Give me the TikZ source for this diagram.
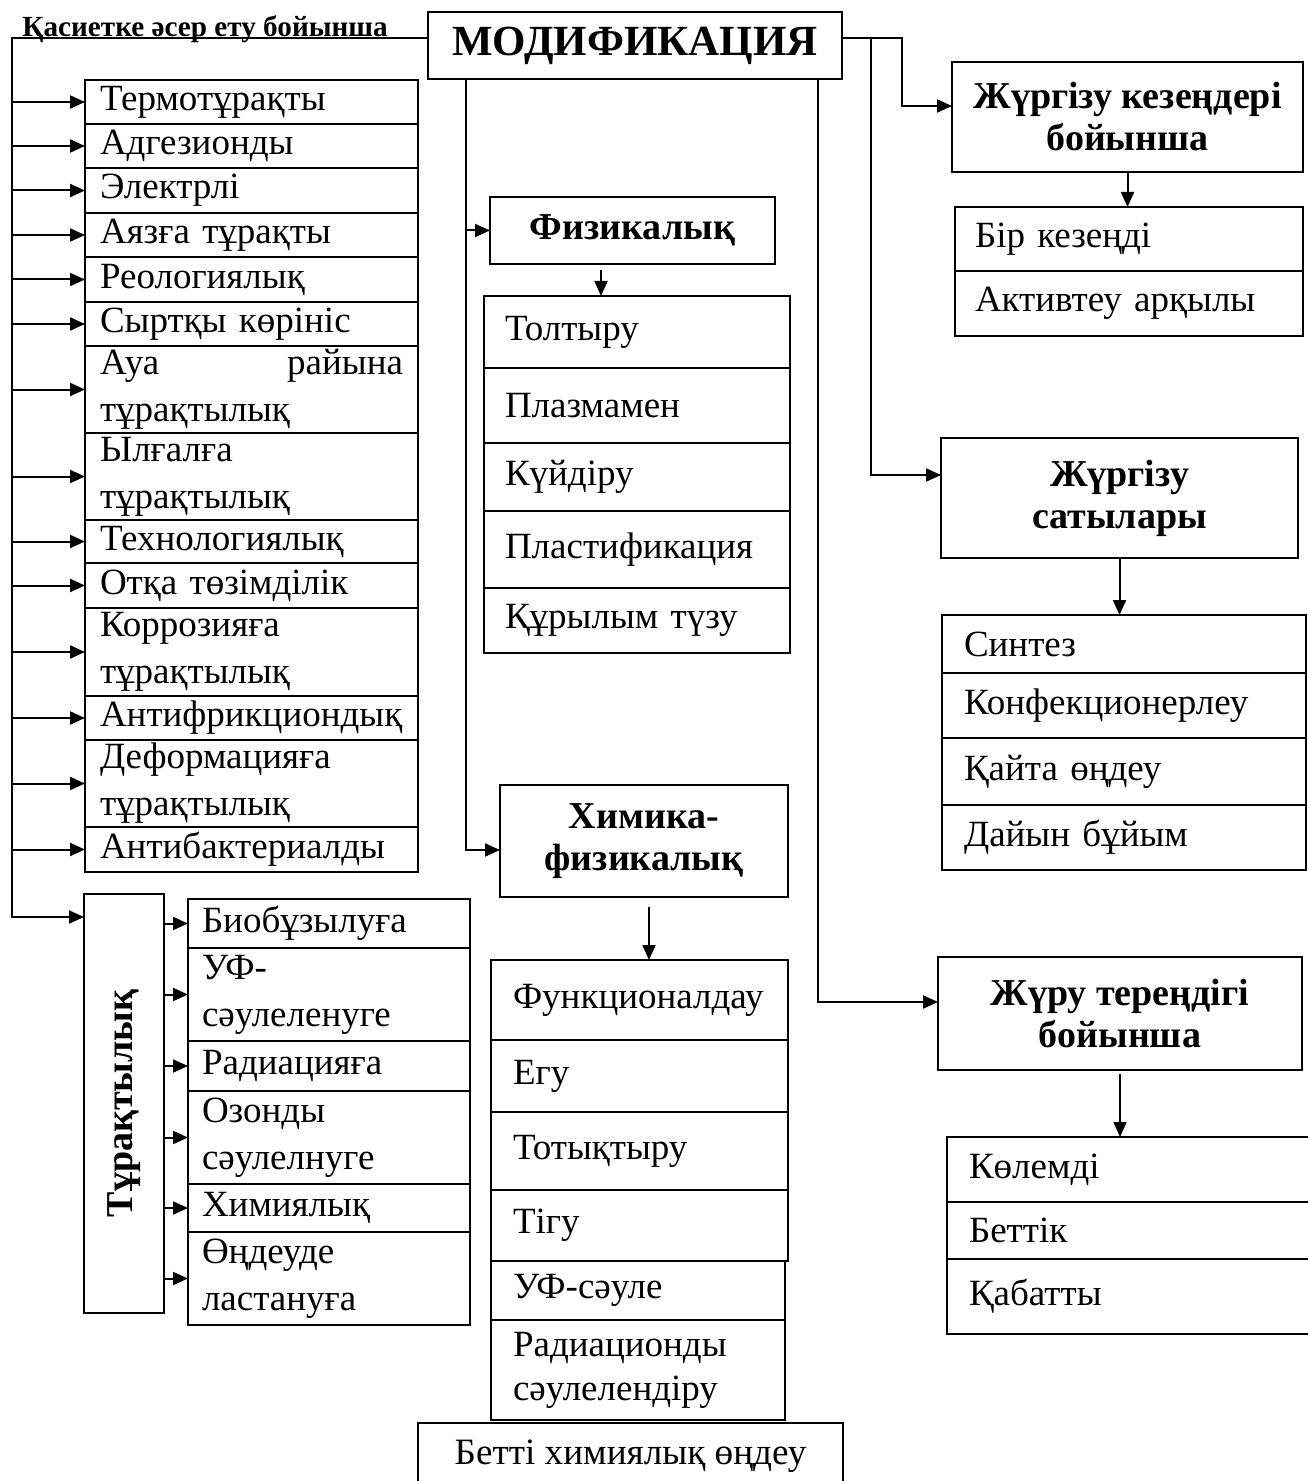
\documentclass[tikz,border=0pt]{standalone}
\usepackage{fontspec}
\setmainfont{Liberation Serif}
\usetikzlibrary{arrows.meta}

\begin{document}
\begin{tikzpicture}[x=0.5pt,y=-0.5pt,
  box/.style={draw,line width=1pt,inner sep=0pt,outer sep=0pt},
  head/.style={box,align=center,font=\bfseries\fontsize{19}{21}\selectfont},
  item/.style={box,anchor=north west,align=left},
  lrow/.style={item,minimum width=166.5pt,text width=151.5pt,font=\fontsize{18.5}{23.5}\selectfont},
  urow/.style={item,minimum width=141pt,text width=127pt,font=\fontsize{18.5}{23.5}\selectfont},
  prow/.style={item,minimum width=153pt,text width=132pt,font=\fontsize{18.5}{22}\selectfont},
  crow/.style={item,minimum width=148.5pt,text width=126.5pt,font=\fontsize{18.5}{22}\selectfont},
  krow/.style={item,minimum width=174pt,text width=154pt,font=\fontsize{18.5}{22}\selectfont},
  srow/.style={item,minimum width=182pt,text width=160pt,font=\fontsize{18.5}{22}\selectfont},
  drow/.style={item,minimum width=185pt,text width=163pt,font=\fontsize{18.5}{22}\selectfont},
  arr/.style={-{Triangle[length=7.5pt,width=6.5pt]},line width=1pt}]
\useasboundingbox (0,0) rectangle (1307,1481);

% Main box
\node[head,minimum width=207pt,minimum height=33.5pt,font=\bfseries\fontsize{21.5}{24}\selectfont] (mod) at (635,45.5) {МОДИФИКАЦИЯ};
\node[anchor=base west,inner sep=0pt,font=\bfseries\fontsize{14.6}{16}\selectfont] (ttl) at (22,36.5) {Қасиетке әсер ету бойынша};

% Properties list
\node[lrow,minimum height=22pt] (a1) at (85,80) {Термотұрақты};
\node[lrow,minimum height=22pt] (a2) at (85,124) {Адгезионды};
\node[lrow,minimum height=22.5pt] (a3) at (85,168) {Электрлі};
\node[lrow,minimum height=22pt] (a4) at (85,213) {Аязға тұрақты};
\node[lrow,minimum height=22.5pt] (a5) at (85,257) {Реологиялық};
\node[lrow,minimum height=22pt] (a6) at (85,302) {Сыртқы көрініс};
\node[lrow,minimum height=43.5pt] (a7) at (85,346) {Ауа \hfill райына\\тұрақтылық};
\node[lrow,minimum height=43.5pt] (a8) at (85,433) {Ылғалға\\тұрақтылық};
\node[lrow,minimum height=21.5pt] (a9) at (85,520) {Технологиялық};
\node[lrow,minimum height=22.5pt] (a10) at (85,563) {Отқа төзімділік};
\node[lrow,minimum height=44pt] (a11) at (85,608) {Коррозияға\\тұрақтылық};
\node[lrow,minimum height=22pt] (a12) at (85,696) {Антифрикциондық};
\node[lrow,minimum height=43.5pt] (a13) at (85,740) {Деформацияға\\тұрақтылық};
\node[lrow,minimum height=22.5pt] (a14) at (85,827) {Антибактериалды};

% Stability box and its list
\node[box,minimum width=40pt,minimum height=209.5pt,font=\bfseries\fontsize{19}{21}\selectfont] (tur) at (124,1103.5) {\rotatebox{90}{Тұрақтылық}};
\node[urow,minimum height=24.5pt] (u1) at (188,899) {Биобұзылуға};
\node[urow,minimum height=46.5pt] (u2) at (188,948) {УФ-\\сәулеленуге};
\node[urow,minimum height=25pt] (u3) at (188,1041) {Радиацияға};
\node[urow,minimum height=46.5pt] (u4) at (188,1091) {Озонды\\сәулелнуге};
\node[urow,minimum height=24pt] (u5) at (188,1184) {Химиялық};
\node[urow,minimum height=46.5pt] (u6) at (188,1232) {Өңдеуде\\ластануға};

% Physical
\node[head,minimum width=142.5pt,minimum height=33.5pt] (fiz) at (632.5,230.5) {Физикалық};
\node[prow,minimum height=36pt] (p1) at (484,296) {Толтыру};
\node[prow,minimum height=37.5pt] (p2) at (484,368) {Плазмамен};
\node[prow,minimum height=34pt] (p3) at (484,443) {Күйдіру};
\node[prow,minimum height=38.5pt] (p4) at (484,511) {Пластификация};
\node[prow,minimum height=32.5pt] (p5) at (484,588) {Құрылым түзу};

% Chemical-physical
\node[head,minimum width=144pt,minimum height=56pt] (him) at (644,841) {Химика-\\физикалық};
\node[crow,minimum height=40pt] (c1) at (491,960) {Функционалдау};
\node[crow,minimum height=36pt] (c2) at (491,1040) {Егу};
\node[crow,minimum height=39pt] (c3) at (491,1112) {Тотықтыру};
\node[crow,minimum height=35.5pt] (c4) at (491,1190) {Тігу};
\node[crow,minimum width=147pt,text width=125pt,minimum height=29.5pt] (c5) at (491,1261) {УФ-сәуле};
\node[crow,minimum width=147pt,text width=125pt,minimum height=50pt] (c6) at (491,1320) {Радиационды\\сәулелендіру};
\node[box,fill=white,minimum width=212.5pt,minimum height=33.5pt,font=\fontsize{18.6}{21}\selectfont] (bet) at (630.5,1456.5) {Бетті химиялық өңдеу};

% By stages
\node[head,minimum width=175.5pt,minimum height=55pt] (kez) at (1127.5,117) {Жүргізу кезеңдері\\бойынша};
\node[krow,minimum height=32pt] (k1) at (955,207) {Бір кезеңді};
\node[krow,minimum height=32.5pt] (k2) at (955,271) {Активтеу арқылы};

% By steps
\node[head,minimum width=178.5pt,minimum height=60pt] (sat) at (1119.5,498) {Жүргізу\\сатылары};
\node[srow,minimum height=29pt] (s1) at (942,615) {Синтез};
\node[srow,minimum height=32.5pt] (s2) at (942,673) {Конфекционерлеу};
\node[srow,minimum height=33.5pt] (s3) at (942,738) {Қайта өңдеу};
\node[srow,minimum height=32.5pt] (s4) at (942,805) {Дайын бұйым};

% By depth
\node[head,minimum width=182pt,minimum height=56.5pt] (ter) at (1120,1013.5) {Жүру тереңдігі\\бойынша};
\node[drow,minimum height=32.5pt] (d1) at (947,1137) {Көлемді};
\node[drow,minimum height=28.5pt] (d2) at (947,1202) {Беттік};
\node[drow,minimum height=37.5pt] (d3) at (947,1259) {Қабатты};

% Left bracket
\coordinate (ltop) at (12,38);
\coordinate (lbot) at (12,917);
\draw[arr] (mod.west |- ltop) -- (ltop) -- (lbot) -- (tur.west |- lbot);
\draw[arr] (ltop |- a1.west) -- (a1.west);
\draw[arr] (ltop |- a2.west) -- (a2.west);
\draw[arr] (ltop |- a3.west) -- (a3.west);
\draw[arr] (ltop |- a4.west) -- (a4.west);
\draw[arr] (ltop |- a5.west) -- (a5.west);
\draw[arr] (ltop |- a6.west) -- (a6.west);
\draw[arr] (ltop |- a7.west) -- (a7.west);
\draw[arr] (ltop |- a8.west) -- (a8.west);
\draw[arr] (ltop |- a9.west) -- (a9.west);
\draw[arr] (ltop |- a10.west) -- (a10.west);
\draw[arr] (ltop |- a11.west) -- (a11.west);
\draw[arr] (ltop |- a12.west) -- (a12.west);
\draw[arr] (ltop |- a13.west) -- (a13.west);
\draw[arr] (ltop |- a14.west) -- (a14.west);

% Stability arrows
\draw[arr] (tur.east |- u1.west) -- (u1.west);
\draw[arr] (tur.east |- u2.west) -- (u2.west);
\draw[arr] (tur.east |- u3.west) -- (u3.west);
\draw[arr] (tur.east |- u4.west) -- (u4.west);
\draw[arr] (tur.east |- u5.west) -- (u5.west);
\draw[arr] (tur.east |- u6.west) -- (u6.west);

% Middle branch
\coordinate (mbot) at (466,850);
\draw[arr] (mod.south -| mbot) -- (mbot) -- (him.west |- mbot);
\draw[arr] (mbot |- fiz.west) -- (fiz.west);
\draw[arr] ([xshift=-15.75pt,yshift=-3pt]fiz.south) -- ([xshift=-15.75pt]fiz.south |- p1.north);
\draw[arr] ([xshift=2.5pt,yshift=-5pt]him.south) -- ([xshift=2.5pt]him.south |- c1.north);

% Right branches
\coordinate (rtop) at (902,38);
\coordinate (rmid) at (871,38);
\coordinate (rlow) at (818,79);
\draw[arr] (mod.east |- rtop) -- (rtop) |- ([yshift=5.5pt]kez.west);
\draw[arr] (rmid) |- ([yshift=11.5pt]sat.west);
\draw[arr] (rlow) |- ([yshift=5.75pt]ter.west);
\draw[arr] (kez.south) -- (kez.south |- k1.north);
\draw[arr] (sat.south) -- (sat.south |- s1.north);
\draw[arr] ([yshift=-2pt]ter.south) -- (ter.south |- d1.north);
\end{tikzpicture}
\end{document}
